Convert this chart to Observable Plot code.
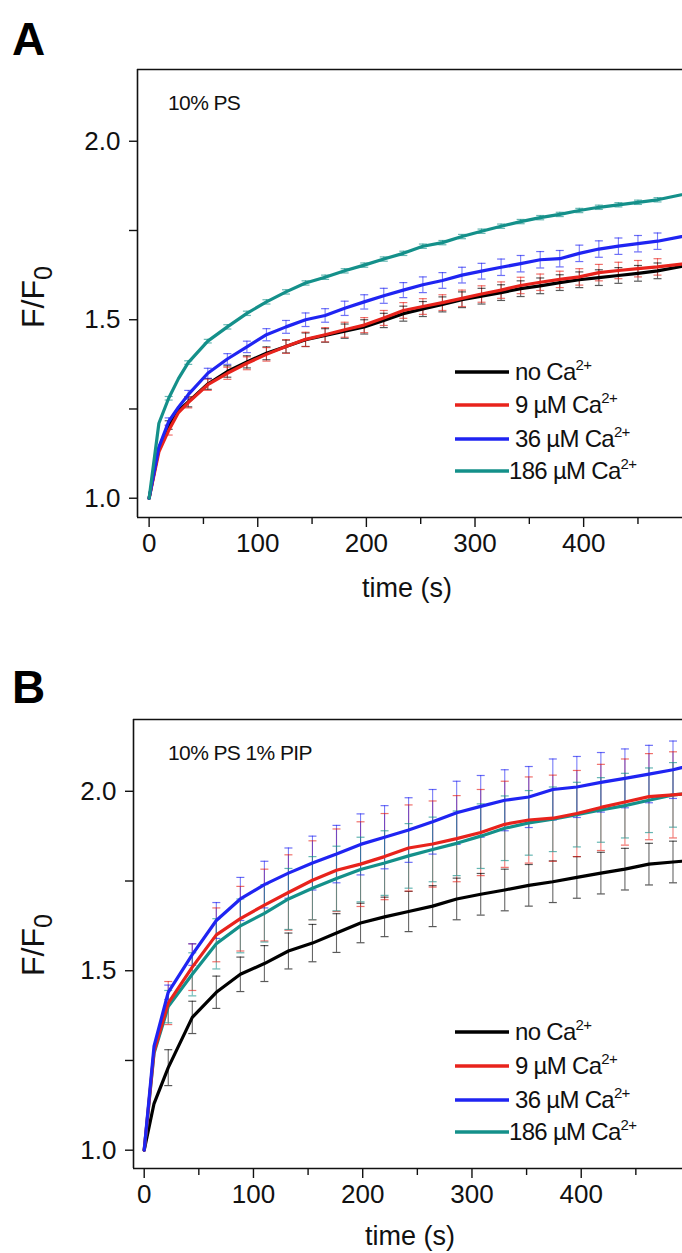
<!DOCTYPE html>
<html><head><meta charset="utf-8">
<script src="https://cdn.jsdelivr.net/npm/d3@7"></script>
<script src="https://cdn.jsdelivr.net/npm/@observablehq/plot@0.6"></script>
<style>
body{margin:0;background:#fff;}
#wrap{width:682px;height:1253px;overflow:hidden;background:#fff;}
svg{display:block;}
</style></head><body><div id="wrap"></div>
<script>
// ---------- data ----------
const seriesNames = ["no Ca", "9 µM Ca", "36 µM Ca", "186 µM Ca"];
const seriesColors = ["#000000", "#e8231c", "#1f24f2", "#14908a"];
const xTicks = [0, 100, 200, 300, 400];
const xMinorTicks = [50, 150, 250, 350, 450];
const yTicks = [1.0, 1.5, 2.0];
const yMinorTicks = [1.25, 1.75];

// Panel A: 10% PS
const timeA = [0, 9, 18, 27, 36, 54, 72, 90, 108, 126, 144, 162, 180, 198, 216, 234, 252, 270, 288, 306, 324, 342, 360, 378, 396, 414, 432, 450, 468, 490];
const noCaA = [1.0, 1.14, 1.205, 1.245, 1.27, 1.32, 1.355, 1.382, 1.406, 1.425, 1.444, 1.456, 1.468, 1.48, 1.498, 1.517, 1.53, 1.543, 1.556, 1.566, 1.576, 1.587, 1.595, 1.604, 1.612, 1.618, 1.624, 1.63, 1.637, 1.649];
const ca9A = [1.0, 1.13, 1.19, 1.24, 1.268, 1.318, 1.35, 1.378, 1.403, 1.425, 1.445, 1.458, 1.472, 1.485, 1.505, 1.526, 1.537, 1.548, 1.56, 1.572, 1.583, 1.596, 1.605, 1.613, 1.62, 1.632, 1.638, 1.643, 1.648, 1.656];
const ca36A = [1.0, 1.143, 1.215, 1.255, 1.29, 1.35, 1.39, 1.424, 1.458, 1.48, 1.5, 1.512, 1.532, 1.55, 1.567, 1.583, 1.598, 1.61, 1.625, 1.636, 1.647, 1.657, 1.668, 1.671, 1.686, 1.698, 1.706, 1.713, 1.72, 1.733];
const ca186A = [1.0, 1.21, 1.28, 1.335, 1.38, 1.44, 1.48, 1.518, 1.55, 1.578, 1.603, 1.619, 1.637, 1.653, 1.67, 1.686, 1.706, 1.716, 1.733, 1.748, 1.762, 1.775, 1.786, 1.795, 1.806, 1.815, 1.822, 1.829, 1.836, 1.85];
const errNoCaA = [null, null, 0.012, null, 0.014, 0.015, 0.016, 0.017, 0.018, 0.018, 0.019, 0.019, 0.02, 0.02, 0.02, 0.021, 0.021, 0.021, 0.022, 0.022, 0.022, 0.022, 0.022, 0.022, 0.022, 0.022, 0.022, 0.022, 0.022, null];
const errCa9A = [null, null, 0.013, null, 0.015, 0.016, 0.017, 0.018, 0.019, 0.019, 0.02, 0.02, 0.021, 0.021, 0.021, 0.022, 0.022, 0.022, 0.023, 0.023, 0.023, 0.023, 0.023, 0.023, 0.023, 0.023, 0.023, 0.023, 0.023, null];
const errCa36A = [null, null, 0.01, null, 0.012, 0.014, 0.015, 0.016, 0.017, 0.018, 0.019, 0.019, 0.02, 0.02, 0.021, 0.021, 0.022, 0.022, 0.022, 0.022, 0.023, 0.023, 0.023, 0.023, 0.023, 0.023, 0.023, 0.023, 0.023, null];
const errCa186A = [null, null, 0.005, null, 0.005, 0.005, 0.006, 0.006, 0.006, 0.006, 0.006, 0.006, 0.006, 0.006, 0.006, 0.006, 0.006, 0.006, 0.006, 0.006, 0.006, 0.006, 0.006, 0.006, 0.006, 0.006, 0.006, 0.006, 0.006, null];

// Panel B: 10% PS 1% PIP
const timeB = [0, 9, 22, 44, 66, 88, 110, 132, 154, 176, 198, 220, 242, 264, 286, 308, 330, 352, 374, 396, 418, 440, 462, 484, 492];
const noCaB = [1.0, 1.13, 1.23, 1.37, 1.44, 1.49, 1.52, 1.555, 1.577, 1.605, 1.633, 1.65, 1.665, 1.68, 1.7, 1.713, 1.725, 1.738, 1.748, 1.76, 1.772, 1.783, 1.797, 1.803, 1.805];
const ca9B = [1.0, 1.275, 1.41, 1.51, 1.6, 1.645, 1.683, 1.718, 1.752, 1.78, 1.797, 1.818, 1.842, 1.853, 1.868, 1.885, 1.908, 1.92, 1.925, 1.938, 1.955, 1.97, 1.985, 1.99, 1.992];
const ca36B = [1.0, 1.29, 1.44, 1.545, 1.64, 1.7, 1.74, 1.772, 1.8, 1.825, 1.852, 1.872, 1.892, 1.915, 1.94, 1.958, 1.975, 1.984, 2.005, 2.012, 2.025, 2.036, 2.048, 2.06, 2.066];
const ca186B = [1.0, 1.27, 1.4, 1.49, 1.575, 1.625, 1.66, 1.7, 1.73, 1.757, 1.782, 1.8, 1.82, 1.838, 1.855, 1.875, 1.897, 1.912, 1.922, 1.935, 1.948, 1.96, 1.975, 1.99, 1.992];
const errNoCaB = [null, null, 0.05, 0.045, 0.045, 0.048, 0.05, 0.05, 0.052, 0.054, 0.055, 0.055, 0.056, 0.057, 0.058, 0.058, 0.058, 0.058, 0.058, 0.058, 0.058, 0.058, 0.058, 0.058, null];
const errCa9B = [null, null, 0.06, 0.065, 0.075, 0.09, 0.1, 0.105, 0.11, 0.115, 0.118, 0.12, 0.12, 0.12, 0.12, 0.12, 0.12, 0.12, 0.12, 0.12, 0.12, 0.12, 0.12, 0.12, null];
const errCa36B = [null, null, 0.02, 0.03, 0.05, 0.06, 0.065, 0.07, 0.075, 0.08, 0.085, 0.088, 0.09, 0.09, 0.088, 0.086, 0.085, 0.085, 0.085, 0.085, 0.083, 0.082, 0.08, 0.08, null];
const errCa186B = [null, null, 0.045, 0.06, 0.07, 0.075, 0.08, 0.085, 0.088, 0.09, 0.09, 0.09, 0.09, 0.09, 0.09, 0.09, 0.09, 0.09, 0.09, 0.09, 0.09, 0.09, 0.09, 0.09, null];

// ---------- helpers ----------
const FONT = "'Liberation Sans', Arial, Helvetica, sans-serif";
const capSymbol = {
  draw(ctx, size) {
    const r = Math.sqrt(size / Math.PI);
    ctx.moveTo(-r, 0);
    ctx.lineTo(r, 0);
  }
};

function buildRows(time, values, errors) {
  const rows = [];
  values.forEach((vals, si) => {
    time.forEach((t, i) => rows.push({series: seriesNames[si], t, v: vals[i], e: errors[si][i]}));
  });
  return rows;
}

function panel(cfg) {
  const rows = buildRows(cfg.time, cfg.values, cfg.errors);
  const errRows = rows.filter(d => d.e != null);
  const marks = [
    Plot.ruleX(errRows, {x: "t", y1: d => d.v - d.e, y2: d => d.v + d.e, stroke: "series", strokeWidth: 1.1, strokeOpacity: 0.6}),
    Plot.dot(errRows, {x: "t", y: d => d.v + d.e, symbol: capSymbol, r: 4, stroke: "series", strokeWidth: 1.2, strokeOpacity: 0.65, fill: "none"}),
    Plot.dot(errRows, {x: "t", y: d => d.v - d.e, symbol: capSymbol, r: 4, stroke: "series", strokeWidth: 1.2, strokeOpacity: 0.65, fill: "none"}),
    ...cfg.lineOrder.map(name => Plot.line(rows.filter(d => d.series === name), {x: "t", y: "v", stroke: "series", strokeWidth: 3.2, strokeLinejoin: "round"})),
    Plot.ruleX([cfg.xDomain[0]], {stroke: "#111", strokeWidth: 1.6}),
    Plot.ruleY([cfg.yDomain[0], cfg.yDomain[1]], {stroke: "#111", strokeWidth: 1.6}),
    Plot.axisY({ticks: yTicks, tickFormat: d3.format(".1f"), tickSize: 8, tickPadding: 9, fontSize: 26, label: null, strokeWidth: 1.4}),
    Plot.axisY({ticks: yMinorTicks, tickFormat: () => "", tickSize: 8, label: null, strokeWidth: 1.4}),
    Plot.axisX({ticks: xTicks, tickSize: 10, tickPadding: 6, fontSize: 26, label: null, strokeWidth: 1.4}),
    Plot.axisX({ticks: xMinorTicks, tickFormat: () => "", tickSize: 7, label: null, strokeWidth: 1.4})
  ];
  const svg = Plot.plot({
    width: 682,
    height: cfg.height,
    marginLeft: cfg.marginLeft,
    marginRight: 0,
    marginTop: cfg.marginTop,
    marginBottom: cfg.marginBottom,
    style: {fontFamily: FONT, background: "#fff", color: "#111", overflow: "visible"},
    x: {domain: cfg.xDomain},
    y: {domain: cfg.yDomain},
    color: {domain: seriesNames, range: seriesColors},
    marks
  });
  const s = d3.select(svg);
  // panel letter
  s.append("text").attr("x", 12).attr("y", cfg.letterY).attr("text-anchor", "start")
    .attr("font-size", 46).attr("font-weight", "bold")
    .attr("font-family", FONT).attr("fill", "#000").text(cfg.letter);
  // annotation
  s.append("text").attr("x", 168).attr("y", cfg.noteY).attr("text-anchor", "start")
    .attr("font-size", 21).attr("font-family", FONT)
    .attr("letter-spacing", "-0.6px").attr("fill", "#111").text(cfg.note);
  // y label
  const yl = s.append("text").attr("transform", `translate(${cfg.yLabelX},${cfg.yLabelY}) rotate(-90)`)
    .attr("text-anchor", "middle").attr("font-size", 32).attr("font-family", FONT).attr("fill", "#111");
  yl.append("tspan").text("F/F");
  yl.append("tspan").attr("font-size", 25).attr("dy", 8).text("0");
  // x label
  s.append("text").attr("x", cfg.xLabelX).attr("y", cfg.xLabelY).attr("text-anchor", "middle")
    .attr("font-size", 27).attr("font-family", FONT).attr("fill", "#111").text("time (s)");
  // legend
  const lg = s.append("g");
  seriesNames.forEach((name, i) => {
    const y = cfg.legendY[i];
    lg.append("line").attr("x1", 455).attr("x2", 509).attr("y1", y).attr("y2", y)
      .attr("stroke", seriesColors[i]).attr("stroke-width", 3.5);
    const t = lg.append("text").attr("x", i === 3 ? 509 : 515).attr("y", y + 8).attr("text-anchor", "start")
      .attr("font-size", 24).attr("font-family", FONT).attr("letter-spacing", "-0.7px").attr("fill", "#111");
    t.append("tspan").text(name);
    t.append("tspan").attr("font-size", 15).attr("dy", -10).text("2+");
  });
  return svg;
}

const wrap = document.getElementById("wrap");
wrap.appendChild(panel({
  letter: "A", letterY: 55, note: "10% PS", noteY: 110,
  time: timeA,
  values: [noCaA, ca9A, ca36A, ca186A],
  errors: [errNoCaA, errCa9A, errCa36A, errCa186A],
  lineOrder: ["no Ca", "9 µM Ca", "36 µM Ca", "186 µM Ca"],
  height: 626, marginLeft: 137, marginTop: 69, marginBottom: 109,
  xDomain: [-10.7, 491], yDomain: [0.946, 2.201],
  yLabelX: 44, yLabelY: 297, xLabelX: 407, xLabelY: 597,
  legendY: [372, 405, 439, 471]
}));
wrap.appendChild(panel({
  letter: "B", letterY: 77, note: "10% PS 1% PIP", noteY: 134,
  time: timeB,
  values: [noCaB, ca9B, ca36B, ca186B],
  errors: [errNoCaB, errCa9B, errCa36B, errCa186B],
  lineOrder: ["no Ca", "186 µM Ca", "9 µM Ca", "36 µM Ca"],
  height: 627, marginLeft: 133, marginTop: 93, marginBottom: 85,
  xDomain: [-9.8, 492.7], yDomain: [0.949, 2.2],
  yLabelX: 44, yLabelY: 319, xLabelX: 410, xLabelY: 619,
  legendY: [406, 440, 474, 506]
}));
</script></body></html>
